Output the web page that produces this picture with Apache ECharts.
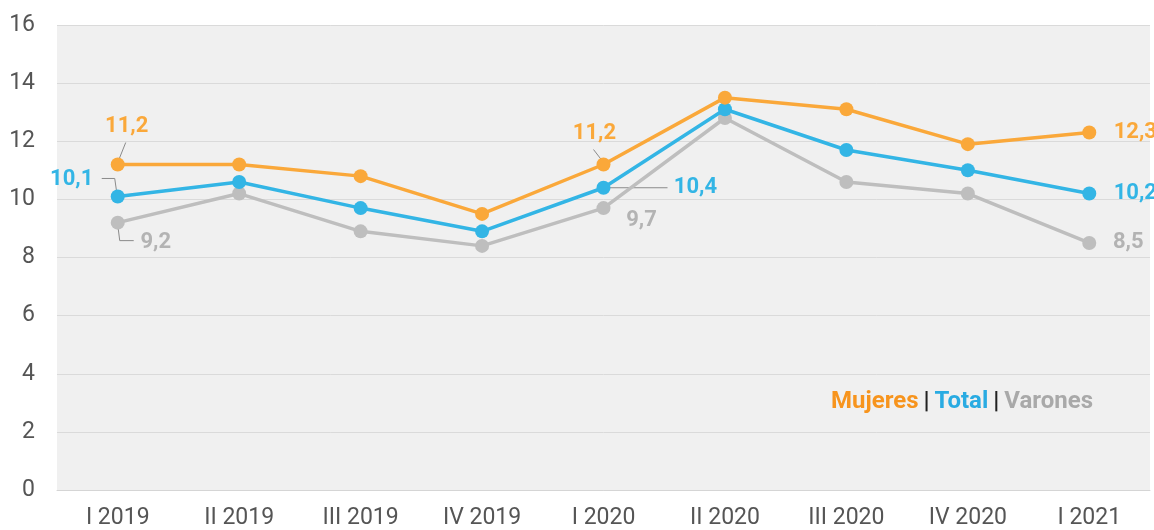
<!DOCTYPE html>
<html>
<head>
<meta charset="utf-8">
<script src="https://cdn.jsdelivr.net/npm/echarts@6/dist/echarts.min.js"></script>
<style>
  html, body { margin: 0; padding: 0; background: #fff; }
  #chart { width: 1154px; height: 530px; }
</style>
</head>
<body>
<div id="chart"></div>
<script>
const categories = ['I 2019', 'II 2019', 'III 2019', 'IV 2019', 'I 2020', 'II 2020', 'III 2020', 'IV 2020', 'I 2021'];
const mujeres = [11.2, 11.2, 10.8, 9.5, 11.2, 13.5, 13.1, 11.9, 12.3];
const total = [10.1, 10.6, 9.7, 8.9, 10.4, 13.1, 11.7, 11.0, 10.2];
const varones = [9.2, 10.2, 8.9, 8.4, 9.7, 12.8, 10.6, 10.2, 8.5];
const yTicks = [0, 2, 4, 6, 8, 10, 12, 14, 16];

const ORANGE = '#FAA83A';
const BLUE = '#33B5E5';
const GRAY = '#BEBEBE';
const GRAY_TXT = '#B3B3B3';

// which points get a label and where it sits (offset from the point)
const labelSpots = {
  mujeres: { 0: [9, -38], 4: [-9, -31], 8: [46, 0] },
  total: { 0: [-46, -17], 4: [92, 0], 8: [46, 0] },
  varones: { 0: [38, 20], 4: [38, 12], 8: [39, 0] }
};

const fmt = v => String(v.toFixed(1)).replace('.', ',');

function buildData(name, values, color) {
  return values.map((v, i) => {
    const spot = labelSpots[name][i];
    if (!spot) return v;
    return {
      value: v,
      label: {
        show: true,
        position: 'inside',
        offset: spot,
        formatter: () => fmt(v),
        color: color,
        fontFamily: 'Roboto',
        fontWeight: 'bold',
        fontSize: 22
      }
    };
  });
}

function makeSeries(name, key, values, color, txtColor, z) {
  return {
    name: name,
    type: 'line',
    data: buildData(key, values, txtColor),
    symbol: 'circle',
    symbolSize: 14,
    z: z,
    itemStyle: { color: color },
    lineStyle: { color: color, width: 3.5 },
    label: { show: false },
    emphasis: { disabled: true },
    animation: false
  };
}

const chart = echarts.init(document.getElementById('chart'));

chart.setOption({
  animation: false,
  backgroundColor: '#ffffff',
  title: {
    right: 56,
    top: 385,
    text: '{m|Mujeres} {s||} {t|Total} {s||} {v|Varones}',
    textStyle: {
      rich: {
        m: { color: '#F7941D', fontFamily: 'Roboto', fontWeight: 'bold', fontSize: 24 },
        t: { color: '#29ABE2', fontFamily: 'Roboto', fontWeight: 'bold', fontSize: 24 },
        v: { color: '#A9A9A9', fontFamily: 'Roboto', fontWeight: 'bold', fontSize: 24 },
        s: { color: '#222', fontFamily: 'Roboto', fontSize: 24 }
      }
    }
  },
  grid: {
    left: 57, right: 4, top: 25, bottom: 40,
    show: true, backgroundColor: '#F0F0F0', borderWidth: 0
  },
  xAxis: {
    type: 'category',
    data: categories,
    boundaryGap: true,
    axisLine: { show: true, lineStyle: { color: '#D5D5D5', width: 1 } },
    axisTick: { show: false },
    axisLabel: { color: '#555', fontFamily: 'Roboto', fontSize: 23, margin: 17 }
  },
  yAxis: {
    type: 'value',
    min: yTicks[0],
    max: yTicks[yTicks.length - 1],
    interval: 2,
    axisLine: { show: false },
    axisTick: { show: false },
    splitLine: { lineStyle: { color: '#DADADA', width: 1 } },
    axisLabel: { color: '#555', fontFamily: 'Roboto', fontSize: 23, margin: 22 }
  },
  series: [
    makeSeries('Varones', 'varones', varones, GRAY, GRAY_TXT, 2),
    makeSeries('Total', 'total', total, BLUE, BLUE, 3),
    makeSeries('Mujeres', 'mujeres', mujeres, ORANGE, ORANGE, 4)
  ]
});

// leader lines placed through the axis scale
const leaderDefs = [
  { vals: mujeres, idx: 0, pts: [[0, -2], [8, -22]] },
  { vals: mujeres, idx: 4, pts: [[0, -2], [-10, -15]] },
  { vals: total, idx: 0, pts: [[-1, -4], [-3, -18], [-16, -18]] },
  { vals: total, idx: 4, pts: [[0, 0], [64, 0]] },
  { vals: varones, idx: 0, pts: [[0, 2], [2, 18], [16, 18]] }
];
chart.setOption({
  graphic: leaderDefs.map((d, k) => {
    const p = chart.convertToPixel({ gridIndex: 0 }, [d.idx, d.vals[d.idx]]);
    return {
      id: 'leader' + k,
      type: 'polyline',
      z: 1,
      shape: { points: d.pts.map(q => [p[0] + q[0], p[1] + q[1]]) },
      style: { stroke: '#8A8A8A', lineWidth: 1, fill: null }
    };
  })
});
</script>
</body>
</html>
